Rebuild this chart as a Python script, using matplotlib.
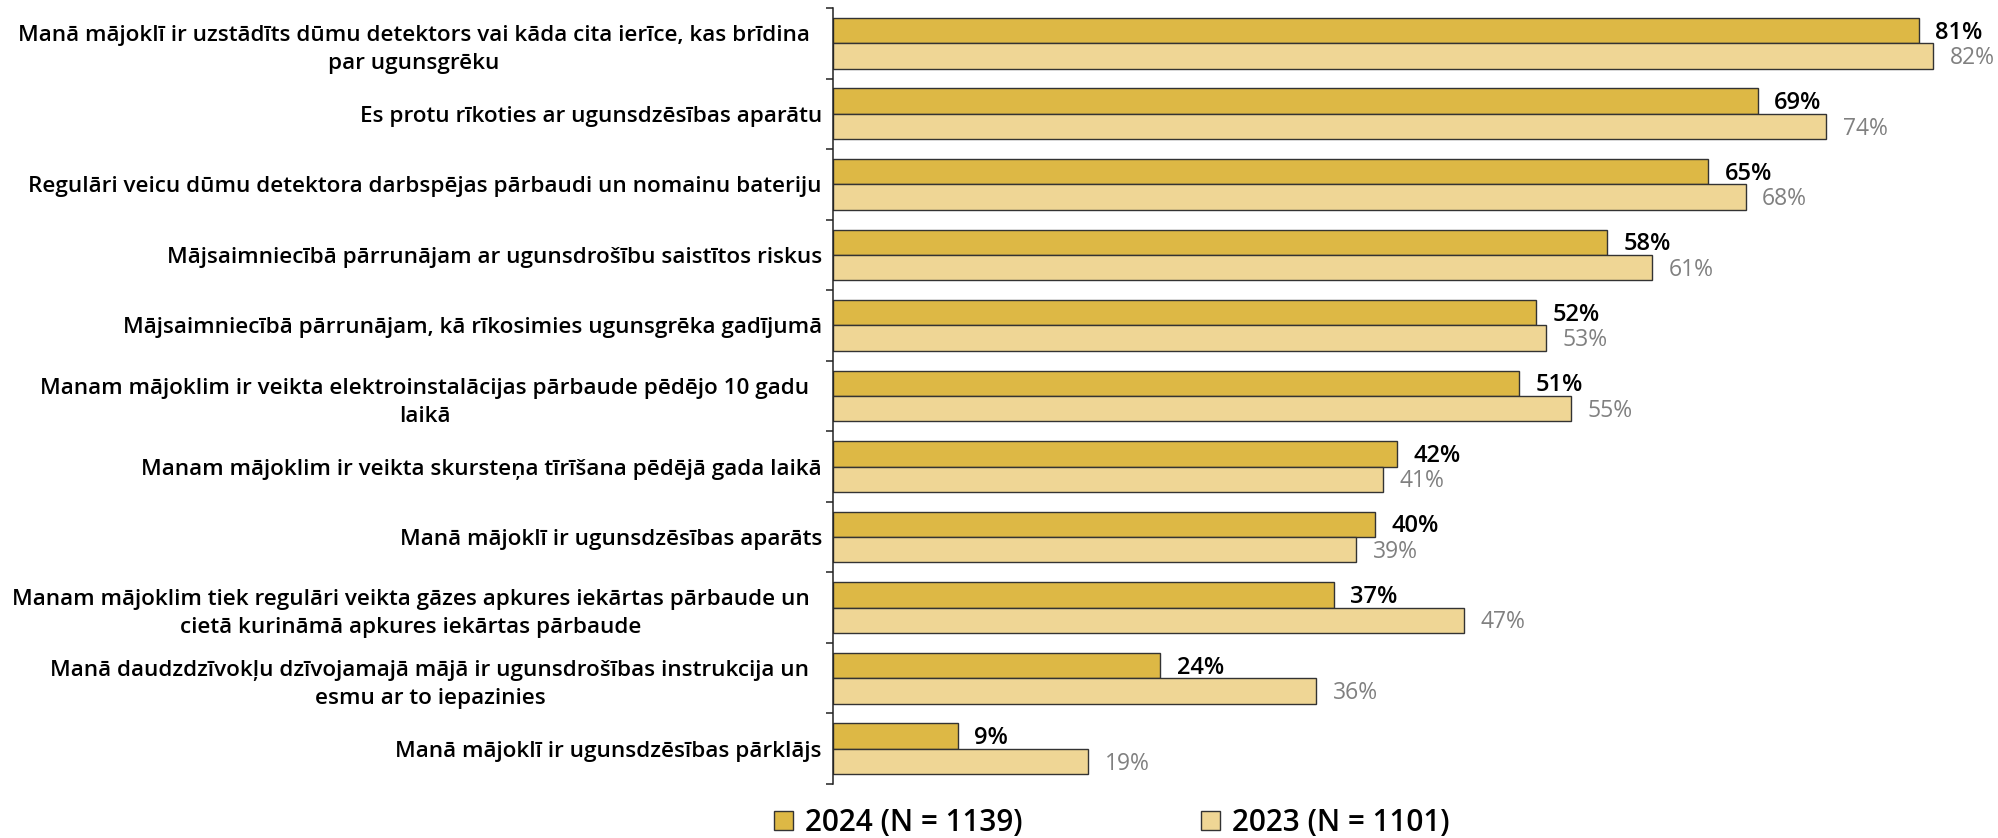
import matplotlib
matplotlib.use("Agg")
import matplotlib.pyplot as plt
from matplotlib.patches import Patch
import numpy as np

plt.rcParams['font.family'] = ['Open Sans', 'DejaVu Sans']

categories = [
    "Manā mājoklī ir uzstādīts dūmu detektors vai kāda cita ierīce, kas brīdina\npar ugunsgrēku",
    "Es protu rīkoties ar ugunsdzēsības aparātu",
    "Regulāri veicu dūmu detektora darbspējas pārbaudi un nomainu bateriju",
    "Mājsaimniecībā pārrunājam ar ugunsdrošību saistītos riskus",
    "Mājsaimniecībā pārrunājam, kā rīkosimies ugunsgrēka gadījumā",
    "Manam mājoklim ir veikta elektroinstalācijas pārbaude pēdējo 10 gadu\nlaikā",
    "Manam mājoklim ir veikta skursteņa tīrīšana pēdējā gada laikā",
    "Manā mājoklī ir ugunsdzēsības aparāts",
    "Manam mājoklim tiek regulāri veikta gāzes apkures iekārtas pārbaude un\ncietā kurināmā apkures iekārtas pārbaude",
    "Manā daudzdzīvokļu dzīvojamajā mājā ir ugunsdrošības instrukcija un\nesmu ar to iepazinies",
    "Manā mājoklī ir ugunsdzēsības pārklājs",
]
values_2024 = [80.9, 68.9, 65.2, 57.7, 52.4, 51.1, 42.0, 40.4, 37.3, 24.4, 9.3]
values_2023 = [82.0, 74.0, 68.0, 61.0, 53.1, 55.0, 41.0, 39.0, 47.0, 36.0, 19.0]
series_names = ["2024 (N = 1139)", "2023 (N = 1101)"]

c2024 = "#DDB845"
c2023 = "#EFD695"
edge = "#333333"

W, H = 1999, 838
fig = plt.figure(figsize=(W / 100, H / 100), dpi=100)
ax_left = 833 / W
ax_top = 1 - 8 / H
ax_bottom = 1 - 784 / H
ax = fig.add_axes([ax_left, ax_bottom, 1 - ax_left, ax_top - ax_bottom])

n = len(categories)
y = np.arange(n)
bh = 0.36
ax.barh(y - bh / 2, values_2024, height=bh, color=c2024, edgecolor=edge, linewidth=1.0)
ax.barh(y + bh / 2, values_2023, height=bh, color=c2023, edgecolor=edge, linewidth=1.0)

ax.set_xlim(0, (W - 833) / 13.42)
ax.set_ylim(n - 0.5, -0.5)

for i, (a, b) in enumerate(zip(values_2024, values_2023)):
    ax.annotate(f"{a:.0f}%", xy=(a, i - bh / 2), xytext=(12, -1.5), textcoords="offset points",
                ha="left", va="center", fontsize=17, color="black", fontweight="semibold")
    ax.annotate(f"{b:.0f}%", xy=(b, i + bh / 2), xytext=(12, -1.5), textcoords="offset points",
                ha="left", va="center", fontsize=16.5, color="#808080", fontweight="medium")

for s in ["top", "right", "bottom"]:
    ax.spines[s].set_visible(False)
ax.spines["left"].set_color("#222222")
ax.spines["left"].set_linewidth(1.1)
ax.set_xticks([])
ax.set_yticks(y)
ax.set_yticklabels(categories, fontsize=16.2, ha="right", multialignment="center",
                   fontweight="semibold", linespacing=1.45)
ax.set_yticks(np.arange(n + 1) - 0.5, minor=True)
ax.tick_params(axis="y", which="major", length=0)
ax.tick_params(axis="y", which="minor", length=5, width=1.1, color="#222222", direction="out")
for t, lab in zip(ax.yaxis.get_major_ticks(), categories):
    t.set_pad(17 if "\n" in lab else 8)

handles = [Patch(facecolor=c2024, edgecolor=edge, linewidth=1.0),
           Patch(facecolor=c2023, edgecolor=edge, linewidth=1.0)]
fig.legend(handles, series_names, loc="center", bbox_to_anchor=(1112 / W, 1 - 823 / H),
           ncol=2, frameon=False, prop={"size": 21.4, "weight": "semibold"},
           handlelength=0.64, handleheight=0.64,
           handletextpad=0.4, columnspacing=6.0, borderpad=0, borderaxespad=0)

fig.savefig("out.png", dpi=100)
